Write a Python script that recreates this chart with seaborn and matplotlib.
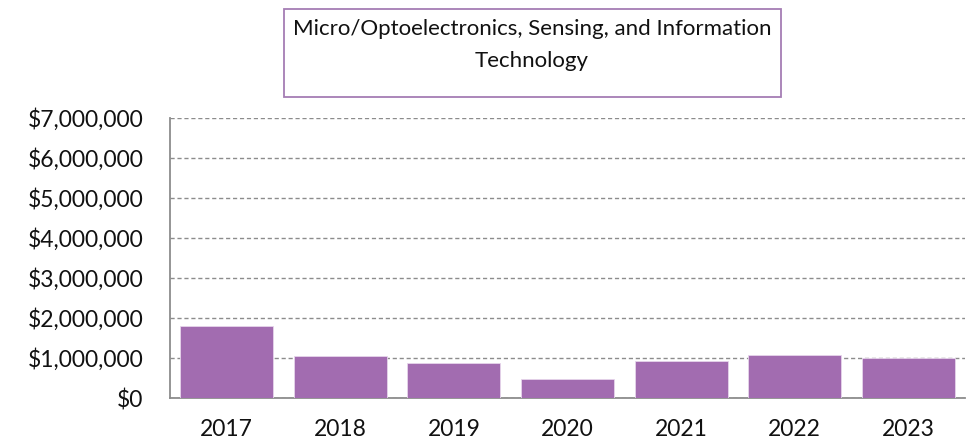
import pandas as pd
import seaborn as sns
import matplotlib.pyplot as plt
from matplotlib.patches import Rectangle
from matplotlib.ticker import FuncFormatter

years = ["2017", "2018", "2019", "2020", "2021", "2022", "2023"]
funding = [1810000, 1050000, 875000, 475000, 930000, 1080000, 995000]
title = "Micro/Optoelectronics, Sensing, and Information\nTechnology"

df = pd.DataFrame({"year": years, "funding": funding})

sns.set_theme(style="white")
plt.rcParams["font.family"] = ["Lato", "DejaVu Sans"]

fig = plt.figure(figsize=(9.66, 4.45), dpi=100)
ax = fig.add_axes([170 / 966, 47 / 445, 795 / 966, 280 / 445])

sns.barplot(data=df, x="year", y="funding", color="#A26CB0", saturation=1,
            width=0.82, edgecolor="#E6D5EB", linewidth=0.6, ax=ax, zorder=3)

ax.set_ylim(0, 7000000)
ax.set_xlim(-0.5, len(years) - 0.5)
ax.set_yticks(range(0, 7000001, 1000000))
ax.yaxis.set_major_formatter(FuncFormatter(lambda v, p: f"${v:,.0f}"))
ax.set_xlabel("")
ax.set_ylabel("")

ax.yaxis.grid(True, linestyle=(0, (3, 2)), color="#8C8C8C", linewidth=1.0, zorder=0)
ax.xaxis.grid(False)
for side in ["top", "right"]:
    ax.spines[side].set_visible(False)
for side in ["left", "bottom"]:
    ax.spines[side].set_color("#8C8C8C")
    ax.spines[side].set_linewidth(1.3)

# category boundary ticks on x
ax.set_xticks([i - 0.5 for i in range(len(years) + 1)], minor=True)
ax.tick_params(axis="x", which="major", length=0, labelsize=16.5, pad=15, labelcolor="#111111")
ax.tick_params(axis="x", which="minor", direction="out", length=6, width=1.3, color="#8C8C8C")
ax.tick_params(axis="y", direction="out", length=7, width=1.3, color="#8C8C8C",
               labelsize=16.5, pad=12, labelcolor="#111111")

# title box
fig.patches.append(Rectangle((284 / 966, 1 - 97 / 445), (781 - 284) / 966, 88 / 445,
                             transform=fig.transFigure, fill=False,
                             edgecolor="#A57DB4", linewidth=1.3))
fig.text(532 / 966, 1 - 45 / 445, title, ha="center", va="center",
         fontsize=16, color="#111111", linespacing=1.7)

fig.savefig("out.png", dpi=100)
